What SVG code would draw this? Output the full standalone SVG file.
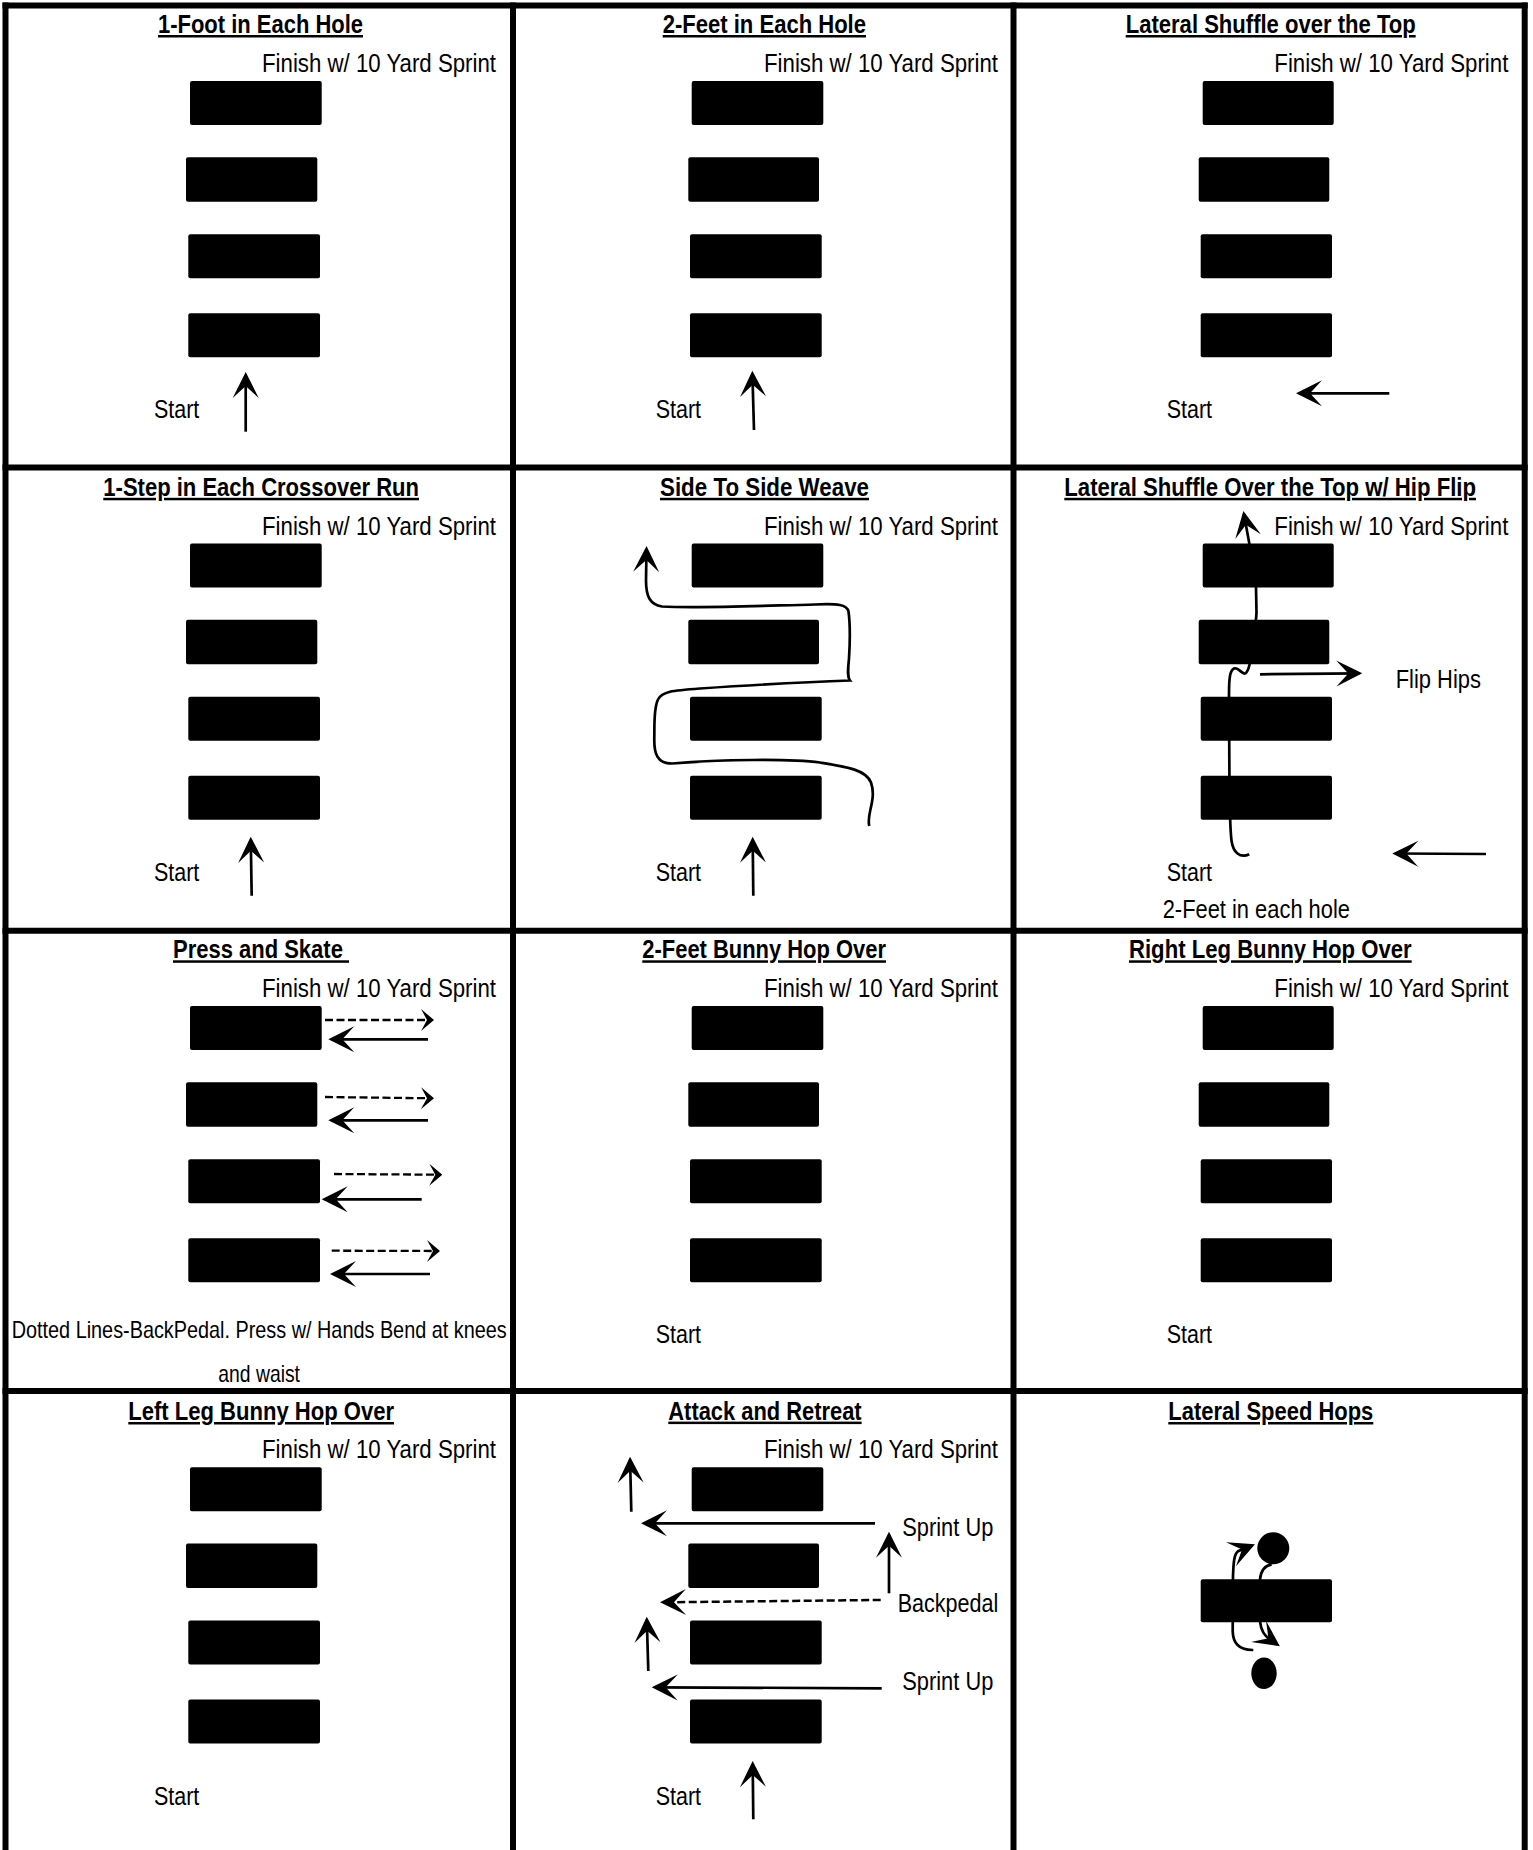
<svg xmlns="http://www.w3.org/2000/svg" width="1533" height="1850" viewBox="0 0 1533 1850">
<style>
  text { font-family: 'Liberation Sans Narrow', 'Liberation Sans', Arial, sans-serif; fill: #000; }
  .t { font-size: 25px; font-weight: bold; text-decoration: underline; }
  .l { font-size: 25px; }
  .f { font-family: 'Liberation Sans', Arial, sans-serif; font-size: 25px; text-anchor: end; }
  .s { font-size: 24px; }
  .box { fill: #000; }
  .grid { stroke: #000; stroke-width: 6; fill: none; }
  .ln { stroke: #000; stroke-width: 2.7; fill: none; }
  .dsh { stroke: #000; stroke-width: 2.3; fill: none; stroke-dasharray: 8 3.5; }
</style>
<defs>
  <marker id="ah" viewBox="-24 -14 28 28" refX="0" refY="0" markerWidth="28" markerHeight="28" orient="auto" markerUnits="userSpaceOnUse">
    <path d="M3,0 L-23,-13 L-11,0 L-23,13 Z" fill="#000"/>
  </marker>
  <marker id="ahs" viewBox="-14 -12 16 24" refX="0" refY="0" markerWidth="16" markerHeight="24" orient="auto" markerUnits="userSpaceOnUse">
    <path d="M2,0 L-11,-11 L-5,0 L-11,11 Z" fill="#000"/>
  </marker>
  <g id="ladder1">
    <rect class="box" x="190" y="81" width="131.7" height="44" rx="2"/>
    <rect class="box" x="186" y="157.3" width="131.3" height="44.4" rx="2"/>
    <rect class="box" x="188.3" y="234.3" width="131.7" height="44" rx="2"/>
    <rect class="box" x="188.3" y="313.3" width="131.7" height="44" rx="2"/>
  </g>
  <g id="ladder2">
    <rect class="box" x="691.7" y="81" width="131.6" height="44" rx="2"/>
    <rect class="box" x="688.3" y="157.3" width="130.7" height="44.4" rx="2"/>
    <rect class="box" x="690" y="234.3" width="131.7" height="44" rx="2"/>
    <rect class="box" x="690" y="313.3" width="131.7" height="44" rx="2"/>
  </g>
  <g id="ladder3">
    <rect class="box" x="1202.7" y="81" width="131" height="44" rx="2"/>
    <rect class="box" x="1198.7" y="157.3" width="130.6" height="44.4" rx="2"/>
    <rect class="box" x="1200.7" y="234.3" width="131.3" height="44" rx="2"/>
    <rect class="box" x="1200.7" y="313.3" width="131.3" height="44" rx="2"/>
  </g>
</defs>
<rect x="0" y="0" width="1533" height="1850" fill="#fff"/>

<g id="grid">
  <line class="grid" x1="5.5" y1="2.5" x2="5.5" y2="1850"/>
  <line class="grid" x1="513" y1="2.5" x2="513" y2="1850"/>
  <line class="grid" x1="1013.5" y1="2.5" x2="1013.5" y2="1850"/>
  <line class="grid" x1="1524.7" y1="2.5" x2="1524.7" y2="1850"/>
  <line class="grid" x1="2.5" y1="5.5" x2="1527.7" y2="5.5"/>
  <line class="grid" x1="2.5" y1="467.5" x2="1527.7" y2="467.5"/>
  <line class="grid" x1="2.5" y1="930.8" x2="1527.7" y2="930.8"/>
  <line class="grid" x1="2.5" y1="1391" x2="1527.7" y2="1391"/>
</g>

<!-- Row 1 -->
<g id="drill-1-foot">
  <text class="t" x="158" y="33" textLength="205" lengthAdjust="spacingAndGlyphs">1-Foot in Each Hole</text>
  <text class="f" transform="translate(496,71.8) scale(0.8817,1)" textLength="265.4" lengthAdjust="spacingAndGlyphs">Finish w/ 10 Yard Sprint</text>
  <use href="#ladder1"/>
  <text class="l" x="154" y="418.3" textLength="45.3" lengthAdjust="spacingAndGlyphs">Start</text>
</g>
<g id="drill-2-feet">
  <text class="t" x="662.7" y="33" textLength="203.3" lengthAdjust="spacingAndGlyphs">2-Feet in Each Hole</text>
  <text class="f" transform="translate(998,71.8) scale(0.8817,1)" textLength="265.4" lengthAdjust="spacingAndGlyphs">Finish w/ 10 Yard Sprint</text>
  <use href="#ladder2"/>
  <text class="l" x="655.7" y="418.3" textLength="45.3" lengthAdjust="spacingAndGlyphs">Start</text>
</g>
<g id="drill-lateral-shuffle">
  <text class="t" x="1125.7" y="33" textLength="290" lengthAdjust="spacingAndGlyphs">Lateral Shuffle over the Top</text>
  <text class="f" transform="translate(1508.3,71.8) scale(0.8817,1)" textLength="265.4" lengthAdjust="spacingAndGlyphs">Finish w/ 10 Yard Sprint</text>
  <use href="#ladder3"/>
  <text class="l" x="1166.7" y="418.3" textLength="45.3" lengthAdjust="spacingAndGlyphs">Start</text>
</g>

<!-- Row 2 -->
<g id="drill-1-step" transform="translate(0,462.5)">
  <text class="t" x="103.3" y="33.3" textLength="315.7" lengthAdjust="spacingAndGlyphs">1-Step in Each Crossover Run</text>
  <text class="f" transform="translate(496,72) scale(0.8817,1)" textLength="265.4" lengthAdjust="spacingAndGlyphs">Finish w/ 10 Yard Sprint</text>
  <use href="#ladder1"/>
  <text class="l" x="154" y="418.3" textLength="45.3" lengthAdjust="spacingAndGlyphs">Start</text>
</g>
<g id="drill-weave" transform="translate(0,462.5)">
  <text class="t" x="660" y="33.3" textLength="209" lengthAdjust="spacingAndGlyphs">Side To Side Weave</text>
  <text class="f" transform="translate(998,72) scale(0.8817,1)" textLength="265.4" lengthAdjust="spacingAndGlyphs">Finish w/ 10 Yard Sprint</text>
  <use href="#ladder2"/>
  <text class="l" x="655.7" y="418.3" textLength="45.3" lengthAdjust="spacingAndGlyphs">Start</text>
</g>
<g id="drill-hip-flip" transform="translate(0,462.5)">
  <text class="t" x="1064.3" y="33.3" textLength="411.7" lengthAdjust="spacingAndGlyphs">Lateral Shuffle Over the Top w/ Hip Flip</text>
  <text class="f" transform="translate(1508.3,72) scale(0.8817,1)" textLength="265.4" lengthAdjust="spacingAndGlyphs">Finish w/ 10 Yard Sprint</text>
  <use href="#ladder3"/>
  <text class="l" x="1395.7" y="225.8" textLength="85.3" lengthAdjust="spacingAndGlyphs">Flip Hips</text>
  <text class="l" x="1166.7" y="418.3" textLength="45.3" lengthAdjust="spacingAndGlyphs">Start</text>
  <text class="l" x="1162.7" y="455.8" textLength="187.3" lengthAdjust="spacingAndGlyphs">2-Feet in each hole</text>
</g>

<!-- Row 3 -->
<g id="drill-press-skate" transform="translate(0,925)">
  <text class="t" x="173" y="33.3" textLength="176" lengthAdjust="spacingAndGlyphs" xml:space="preserve">Press and Skate </text>
  <text class="f" transform="translate(496,71.7) scale(0.8817,1)" textLength="265.4" lengthAdjust="spacingAndGlyphs">Finish w/ 10 Yard Sprint</text>
  <use href="#ladder1"/>
  <text class="s" x="11.7" y="413.3" textLength="495" lengthAdjust="spacingAndGlyphs">Dotted Lines-BackPedal. Press w/ Hands Bend at knees</text>
  <text class="s" x="218.3" y="456.7" textLength="81.7" lengthAdjust="spacingAndGlyphs">and waist</text>
</g>
<g id="drill-2-feet-bunny" transform="translate(0,925)">
  <text class="t" x="642.3" y="33.3" textLength="243.7" lengthAdjust="spacingAndGlyphs">2-Feet Bunny Hop Over</text>
  <text class="f" transform="translate(998,71.7) scale(0.8817,1)" textLength="265.4" lengthAdjust="spacingAndGlyphs">Finish w/ 10 Yard Sprint</text>
  <use href="#ladder2"/>
  <text class="l" x="655.7" y="418.3" textLength="45.3" lengthAdjust="spacingAndGlyphs">Start</text>
</g>
<g id="drill-right-leg-bunny" transform="translate(0,925)">
  <text class="t" x="1129" y="33.3" textLength="282.7" lengthAdjust="spacingAndGlyphs">Right Leg Bunny Hop Over</text>
  <text class="f" transform="translate(1508.3,71.7) scale(0.8817,1)" textLength="265.4" lengthAdjust="spacingAndGlyphs">Finish w/ 10 Yard Sprint</text>
  <use href="#ladder3"/>
  <text class="l" x="1166.7" y="418.3" textLength="45.3" lengthAdjust="spacingAndGlyphs">Start</text>
</g>

<!-- Row 4 -->
<g id="drill-left-leg-bunny" transform="translate(0,1386.3)">
  <text class="t" x="128.3" y="33.7" textLength="265.7" lengthAdjust="spacingAndGlyphs">Left Leg Bunny Hop Over</text>
  <text class="f" transform="translate(496,71.4) scale(0.8817,1)" textLength="265.4" lengthAdjust="spacingAndGlyphs">Finish w/ 10 Yard Sprint</text>
  <use href="#ladder1"/>
  <text class="l" x="154" y="418.3" textLength="45.3" lengthAdjust="spacingAndGlyphs">Start</text>
</g>
<g id="drill-attack-retreat" transform="translate(0,1386.3)">
  <text class="t" x="668.3" y="33.3" textLength="193.3" lengthAdjust="spacingAndGlyphs">Attack and Retreat</text>
  <text class="f" transform="translate(998,71.4) scale(0.8817,1)" textLength="265.4" lengthAdjust="spacingAndGlyphs">Finish w/ 10 Yard Sprint</text>
  <use href="#ladder2"/>
  <text class="l" x="902.3" y="149.7" textLength="91" lengthAdjust="spacingAndGlyphs">Sprint Up</text>
  <text class="l" x="897.7" y="226" textLength="100.6" lengthAdjust="spacingAndGlyphs">Backpedal</text>
  <text class="l" x="902.3" y="303.7" textLength="91" lengthAdjust="spacingAndGlyphs">Sprint Up</text>
  <text class="l" x="655.7" y="418.7" textLength="45.3" lengthAdjust="spacingAndGlyphs">Start</text>
</g>
<g id="drill-lateral-speed-hops" transform="translate(0,1386.3)">
  <text class="t" x="1168.3" y="33.7" textLength="205" lengthAdjust="spacingAndGlyphs">Lateral Speed Hops</text>
  <rect class="box" x="1200.7" y="193" width="131.3" height="43" rx="2"/>
  <circle cx="1273.3" cy="162" r="16" fill="#000"/>
  <ellipse cx="1264" cy="287" rx="12.7" ry="15.7" fill="#000"/>
</g>

<g id="connectors">
  <!-- row 1 -->
  <path class="ln" d="M245.7,431.7 L245.7,375" marker-end="url(#ah)"/>
  <path class="ln" d="M754,430 L752.4,373.7" marker-end="url(#ah)"/>
  <path class="ln" d="M1389.3,393.3 L1299,393.3" marker-end="url(#ah)"/>
  <!-- row 2 -->
  <g transform="translate(0,462.5)">
    <path class="ln" d="M251.7,433.2 L250.75,377.2" marker-end="url(#ah)"/>
    <path class="ln" d="M753.3,433.2 L752.7,377.2" marker-end="url(#ah)"/>
    <path class="ln" d="M869.3,363.5 C866,352 877,337 871,320 C866,307 845,304 820,300 C790,296 720,297 672,301 C657,301 654,291 654.3,276 C654.6,262 653.5,246 658,237 C662,229 672,228 700,226 C760,222 820,219 850,218 C847,214 848,207 849,196 C850,180 850,160 848.5,149 C847,142 838,141 815,142 C770,143 700,146 662,144 C650,142 646,134 646,118 L646.5,86.5" marker-end="url(#ah)"/>
    <path class="ln" d="M1249.3,391.8 C1240,396 1233,390 1231.5,378 C1230,366 1230,350 1229.5,330 L1229,232 C1229,215 1230,208 1234,206 C1238,204 1242,212 1245,211 C1248,210 1249,205 1250,200 C1252,180 1256,165 1256.5,150 L1256,125 C1255,108 1250,95 1249.3,80.8 L1243.9,51.5" marker-end="url(#ah)"/>
    <path class="ln" d="M1260,211.8 L1359.3,210.8" marker-end="url(#ah)"/>
    <path class="ln" d="M1486,391.5 L1395.3,391" marker-end="url(#ah)"/>
  </g>
  <!-- row 3 -->
  <g transform="translate(0,925)">
    <path class="dsh" d="M325,95 L432,95" marker-end="url(#ahs)"/>
    <path class="ln" d="M428,114.3 L331.3,114.3" marker-end="url(#ah)"/>
    <path class="dsh" d="M325,172 L432,173.3" marker-end="url(#ahs)"/>
    <path class="ln" d="M428,195.3 L331.3,195.3" marker-end="url(#ah)"/>
    <path class="dsh" d="M334,249 L440.3,249.7" marker-end="url(#ahs)"/>
    <path class="ln" d="M421.7,274.3 L324.7,274.3" marker-end="url(#ah)"/>
    <path class="dsh" d="M331.7,325.7 L438,326" marker-end="url(#ahs)"/>
    <path class="ln" d="M430,349 L333,349" marker-end="url(#ah)"/>
  </g>
  <!-- row 4 -->
  <g transform="translate(0,1386.3)">
    <path class="ln" d="M631.3,125.4 L630.1,73.4" marker-end="url(#ah)"/>
    <path class="ln" d="M875,137 L644,137" marker-end="url(#ah)"/>
    <path class="ln" d="M889,207 L889,148.4" marker-end="url(#ah)"/>
    <path class="dsh" style="stroke-width:2.5" d="M880.7,213.7 L663,216" marker-end="url(#ah)"/>
    <path class="ln" d="M648.3,284.7 L646.8,233.4" marker-end="url(#ah)"/>
    <path class="ln" d="M881.7,302 L654.7,301" marker-end="url(#ah)"/>
    <path class="ln" d="M753.3,433 L752.7,377.7" marker-end="url(#ah)"/>
    <path class="ln" d="M1253.3,263.7 C1240,264 1233,258 1232.7,245 L1233,190 C1233.5,176 1234,168 1238,165 L1252.2,159.1" marker-end="url(#ah)"/>
    <path class="ln" d="M1271.7,178 C1265,179 1261,184 1260,193 L1260,235 C1261,244 1265,250 1270,253 L1277.4,258.2" marker-end="url(#ah)"/>
  </g>
</g>
</svg>
